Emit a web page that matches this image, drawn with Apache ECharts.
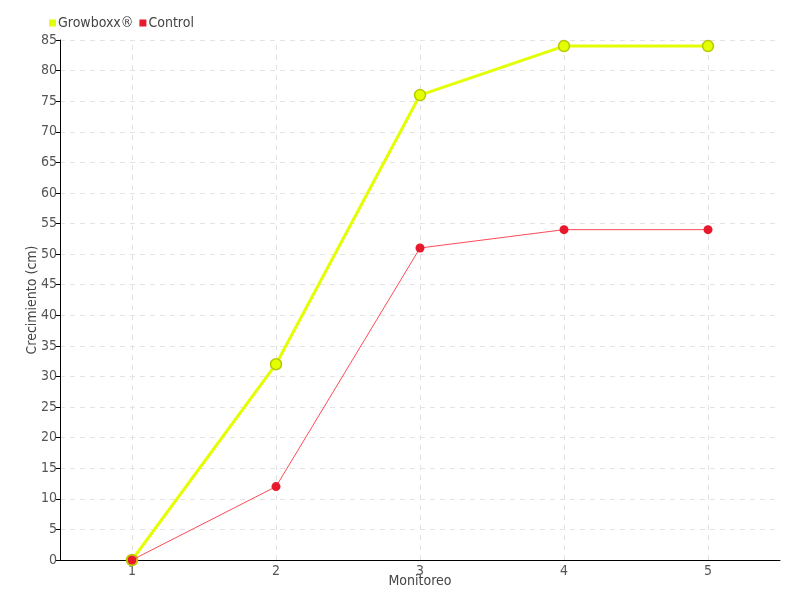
<!DOCTYPE html>
<html><head><meta charset="utf-8">
<script src="https://cdn.jsdelivr.net/npm/echarts@6/dist/echarts.min.js"></script>
<style>html,body{margin:0;padding:0;background:#fff}#c{width:800px;height:600px}</style>
</head><body><div id="c"></div>
<script>
const categories = ['1', '2', '3', '4', '5'];
const growboxx = [0, 32, 76, 84, 84];
const control = [0, 12, 51, 54, 54];
const FONT = '"DejaVu Sans Condensed", "Liberation Sans Narrow", "Roboto", sans-serif';
const chart = echarts.init(document.getElementById('c'));
chart.setOption({
  animation: false,
  textStyle: { fontFamily: FONT },
  legend: {
    left: 44, top: 11, itemWidth: 7, itemHeight: 7, itemGap: 6,
    icon: 'rect',
    itemStyle: { borderWidth: 0 },
    textStyle: { fontFamily: FONT, fontSize: 14, color: '#444', padding: [0, 0, 0, -3] },
    data: ['Growboxx®', 'Control']
  },
  grid: { left: 60, right: 20, top: 40, bottom: 40 },
  xAxis: {
    type: 'category', data: categories, boundaryGap: true,
    name: 'Monitoreo', nameLocation: 'middle', nameGap: 14, nameMoveOverlap: false,
    nameTextStyle: { fontFamily: FONT, fontSize: 14, color: '#444' },
    axisLine: { lineStyle: { color: '#000', width: 1 } },
    axisTick: { alignWithLabel: true, length: 5, lineStyle: { color: '#000' } },
    axisLabel: { fontFamily: FONT, fontSize: 14, color: '#555', margin: 4 },
    splitLine: { show: false }
  },
  yAxis: {
    type: 'value', min: 0, max: 85, interval: 5,
    name: 'Crecimiento (cm)', nameLocation: 'middle', nameGap: 21, nameRotate: 90, nameMoveOverlap: false,
    nameTextStyle: { fontFamily: FONT, fontSize: 14, color: '#444' },
    axisLine: { show: true, lineStyle: { color: '#000', width: 1 } },
    axisTick: { show: true, length: 4, lineStyle: { color: '#000' } },
    axisLabel: { fontFamily: FONT, fontSize: 14, color: '#555', margin: 3 },
    splitLine: { show: true, lineStyle: { color: '#e3e3e3', type: [5, 5], width: 1 } }
  },
  series: [
    {
      name: 'grid-x', type: 'line', data: [], z: 0, silent: true,
      markLine: {
        silent: true, symbol: 'none', label: { show: false }, z: 0,
        lineStyle: { color: '#e3e3e3', type: [5, 5], width: 1 },
        emphasis: { disabled: true },
        data: categories.map(c => ({ xAxis: c }))
      }
    },
    {
      name: 'Growboxx®', type: 'line', data: growboxx, z: 2,
      symbol: 'circle', symbolSize: 11,
      itemStyle: { color: '#e3ff00', borderColor: '#b8c900', borderWidth: 1.5 },
      lineStyle: { color: '#e3ff00', width: 3 }
    },
    {
      name: 'Control', type: 'line', data: control, z: 3,
      symbol: 'circle', symbolSize: 9,
      itemStyle: { color: '#e8192c', borderWidth: 0 },
      lineStyle: { color: '#ff4a58', width: 1 }
    }
  ]
});
</script></body></html>
